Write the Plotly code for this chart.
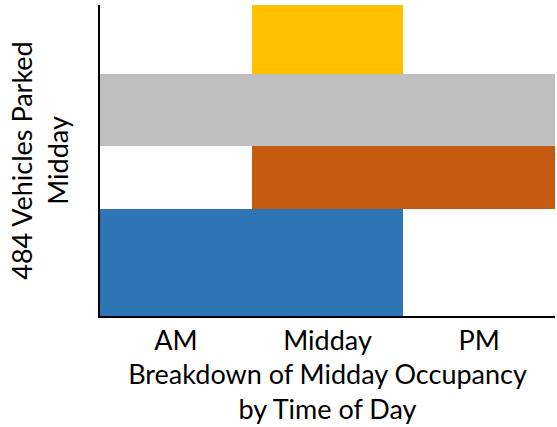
import plotly.graph_objects as go

categories = ["AM", "Midday", "PM"]
am_to_midday = [167, 167, 0]
midday_to_pm = [0, 98, 98]
all_day = [112, 112, 112]
midday_only = [0, 107, 0]
total_parked = 484

series = [
    ("AM to Midday", am_to_midday, "#2E75B6"),
    ("Midday to PM", midday_to_pm, "#C55A11"),
    ("All Day", all_day, "#BFBFBF"),
    ("Midday Only", midday_only, "#FFC000"),
]

FONT = "Lato"
FS = 27
fig = go.Figure()
offset = 0
for name, vals, color in series:
    fig.add_trace(go.Bar(
        x=categories, y=vals, base=[offset] * len(vals), name=name,
        marker=dict(color=color, line=dict(width=0)),
    ))
    offset += max(vals)

fig.update_layout(
    width=557, height=427,
    margin=dict(l=100, r=2, t=5, b=111, autoexpand=False),
    barmode="overlay", bargap=0,
    plot_bgcolor="white", paper_bgcolor="white",
    showlegend=False,
    font=dict(family=FONT, size=FS, color="black"),
)
fig.update_xaxes(
    automargin=False,
    showline=True, linecolor="black", linewidth=2, ticks="",
    showgrid=False, tickfont=dict(size=FS),
    title=dict(text="Breakdown of Midday Occupancy<br>by Time of Day",
               font=dict(size=FS), standoff=10),
)
fig.update_yaxes(
    automargin=False,
    range=[0, total_parked], showline=True, linecolor="black", linewidth=2,
    showgrid=False, showticklabels=False, ticks="", zeroline=False,
    title=dict(text="484 Vehicles Parked<br>Midday", font=dict(size=FS), standoff=22),
)
fig.write_html("out.html", config={"displayModeBar": False},
               post_script="document.body.style.margin='0';")
